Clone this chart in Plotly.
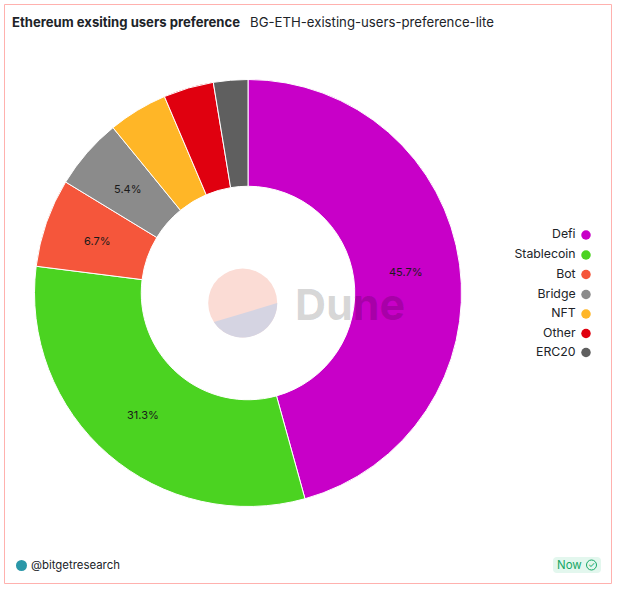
import math
import plotly.graph_objects as go

W, H = 618, 590
categories = ["Defi", "Stablecoin", "Bot", "Bridge", "NFT", "Other", "ERC20"]
shares = [45.7, 31.3, 6.7, 5.4, 4.5, 3.8, 2.6]
labelled = [True, True, True, True, False, False, False]
colors = ["#c800c8", "#4bd321", "#f5563b", "#8b8b8b", "#ffb627", "#e0000f", "#5f5f5f"]

FONT = "Inter, Roboto, sans-serif"
INK = "#202328"
CX, CY, R_OUT, R_IN = 248, 293, 213, 106.5


def dom(x0, y0, x1, y1):
    return dict(x=[x0 / W, x1 / W], y=[1 - y1 / H, 1 - y0 / H])


fig = go.Figure()
fig.add_trace(go.Pie(
    labels=categories, values=shares, sort=False, direction="clockwise", rotation=0,
    hole=0.5, domain=dom(CX - R_OUT - 0.5, CY - R_OUT - 0.5, CX + R_OUT + 0.5, CY + R_OUT + 0.5),
    marker=dict(colors=colors, line=dict(color="#ffffff", width=1)),
    textinfo="none", hoverinfo="label+percent", showlegend=False,
))
# Legend: label to the left of the dot, as in the reference
legend_y = [235, 255, 274.5, 294.5, 314, 333.5, 352.5]
fig.add_trace(go.Scatter(
    x=[586] * len(categories), y=legend_y, mode="markers+text",
    text=[c + " " for c in categories], textposition="middle left",
    textfont=dict(family=FONT, size=12.3, color=INK),
    marker=dict(color=colors, size=9.5, line=dict(width=0)),
    hoverinfo="skip", showlegend=False,
))


def note(x, y, text, size, color=INK, anchor="left", weight=None):
    font = dict(family=FONT, size=size, color=color)
    if weight:
        font["weight"] = weight
    return dict(x=x, y=y, xref="x", yref="y", text=text, showarrow=False,
                xanchor=anchor, yanchor="middle", font=font)


annotations = [
    note(10, 22, "Ethereum exsiting users preference", 13.1, weight=700),
    note(248, 22, "BG-ETH-existing-users-preference-lite", 13.2),
    note(350, 304, "Dune", 43, "rgba(0,0,0,0.17)", "center", 700),
    note(29, 565, "@bitgetresearch", 11.4),
    note(555, 565, "Now", 11.5, "#16a765"),
    note(591.5, 565, "✓", 8, "#16a765", "center"),
]
# Slice percentages sit at mid-ring, at each slice's middle angle
total = sum(shares)
cumulative = 0
for share, show in zip(shares, labelled):
    angle = 2 * math.pi * (cumulative + share / 2) / total
    cumulative += share
    if show:
        r = (R_OUT + R_IN) / 2
        annotations.append(note(CX + r * math.sin(angle), CY - r * math.cos(angle) + 1,
                                f"{share:.1f}%", 11, "#1a1a1a", "center"))

# Dune logo: a circle split by a straight chord
LX, LY, LR = 242.7, 303, 34.5
chord = [math.radians(90 + (236.5 - 90) * i / 48) for i in range(49)]
segment = "M " + " L ".join(f"{LX + LR * math.sin(a):.2f} {LY - LR * math.cos(a):.2f}" for a in chord) + " Z"

shapes = [
    dict(type="rect", xref="x", yref="y", x0=4.5, y0=4.5, x1=611.5, y1=583.5,
         line=dict(color="#ffb1ae", width=1), fillcolor="rgba(0,0,0,0)"),
    dict(type="circle", xref="x", yref="y", x0=LX - LR, y0=LY - LR, x1=LX + LR, y1=LY + LR,
         line=dict(width=0), fillcolor="#fbdcd5"),
    dict(type="path", xref="x", yref="y", path=segment, line=dict(width=0), fillcolor="#d5d4e2"),
    dict(type="circle", xref="x", yref="y", x0=16, y0=560, x1=27, y1=571,
         line=dict(width=0), fillcolor="#2a97a8"),
    dict(type="path", xref="x", yref="y",
         path="M 557 557 H 597 Q 601 557 601 561 V 569 Q 601 573 597 573 H 557 Q 553 573 553 569 V 561 Q 553 557 557 557 Z",
         line=dict(width=0), fillcolor="#e3f7ee", layer="below"),
    dict(type="circle", xref="x", yref="y", x0=586.5, y0=560, x1=596.5, y1=570,
         line=dict(color="#16a765", width=1), fillcolor="rgba(0,0,0,0)"),
]
fig.update_layout(
    width=W, height=H, margin=dict(l=0, r=0, t=0, b=0),
    paper_bgcolor="#ffffff", plot_bgcolor="rgba(0,0,0,0)",
    xaxis=dict(range=[0, W], visible=False, fixedrange=True),
    yaxis=dict(range=[H, 0], visible=False, fixedrange=True),
    annotations=annotations, shapes=shapes,
)
fig.write_html("out.html", config=dict(displayModeBar=False),
               post_script="document.body.style.margin='0';document.body.style.overflow='hidden';")
